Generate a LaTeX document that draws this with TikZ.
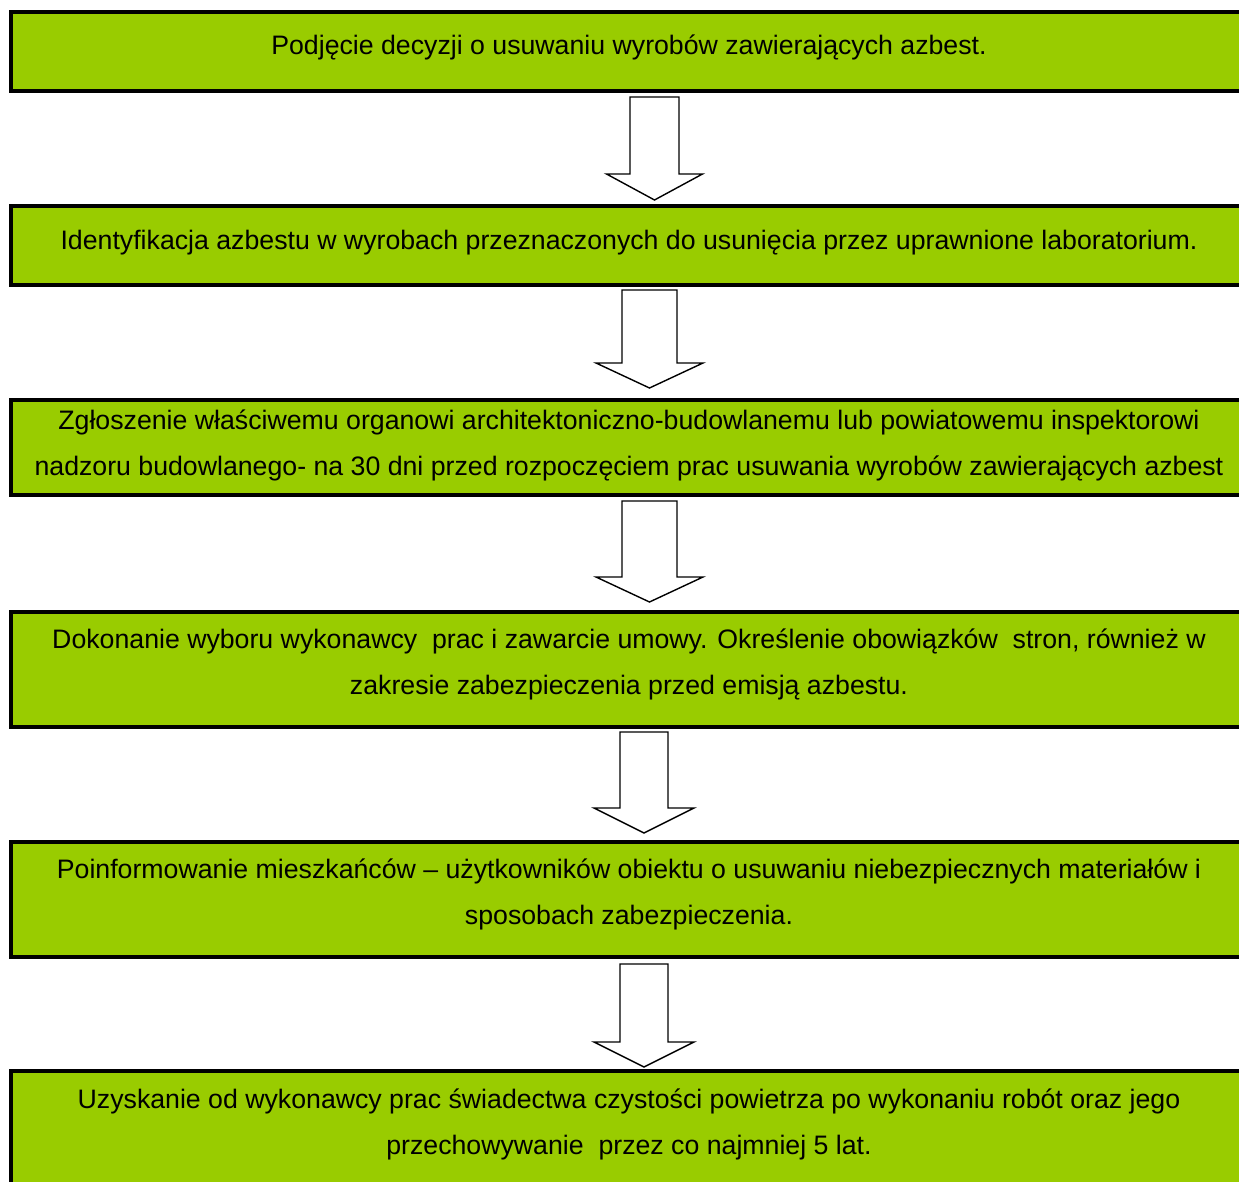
\documentclass[tikz,border=0pt]{standalone}
\usepackage{fontspec}
\setmainfont{Liberation Sans}
\definecolor{boxgreen}{HTML}{99CC00}
\newcommand\flowarrow[7]{%
  % #1 name, #2 cx, #3 top, #4 head base, #5 tip, #6 shaft half width, #7 head half width
  \coordinate (#1) at (#2,#3);
  \draw[blockarrow] (#1) ++(-#6,0) -- ++(2*#6,0) -- (#2+#6,#4) -- (#2+#7,#4) -- (#2,#5)
     -- (#2-#7,#4) -- (#2-#6,#4) -- cycle;}
\begin{document}
\begin{tikzpicture}[x=1pt,y=-1pt,
  stepbox/.style={draw=black, line width=4pt, fill=boxgreen, rectangle, inner sep=0pt, minimum width=1236pt},
  steptext/.style={font=\fontsize{26.7}{46}\selectfont, align=center, inner sep=0pt, anchor=base},
  blockarrow/.style={draw=black, line width=1.4pt, fill=white, line join=miter}]
\useasboundingbox (0,0) rectangle (1239,1182);
\clip (0,0) rectangle (1239,1182);

\node[stepbox, minimum height=79pt]  (b1) at (629,51.5) {};
\node[stepbox, minimum height=79pt]  (b2) at (629,245.5) {};
\node[stepbox, minimum height=95pt]  (b3) at (629,447.5) {};
\node[stepbox, minimum height=115pt] (b4) at (629,669.5) {};
\node[stepbox, minimum height=115pt] (b5) at (629,899.5) {};
\node[stepbox, minimum height=123pt] (b6) at (629,1132.5) {};

% base anchor of a two-line node is the baseline of its last line
\node[steptext] (t1) at (629,55) {Podjęcie decyzji o usuwaniu wyrobów zawierających azbest.};
\node[steptext] (t2) at (629,250) {Identyfikacja azbestu w wyrobach przeznaczonych do usunięcia przez uprawnione laboratorium.};
\node[steptext] (t3) at (629,475) {Zgłoszenie właściwemu organowi architektoniczno-budowlanemu lub powiatowemu inspektorowi\\nadzoru budowlanego- na 30 dni przed rozpoczęciem prac usuwania wyrobów zawierających azbest};
\node[steptext] (t4) at (629,694) {Dokonanie wyboru wykonawcy\ \ prac i zawarcie umowy. Określenie obowiązków\ \ stron, również w\\zakresie zabezpieczenia przed emisją azbestu.};
\node[steptext] (t5) at (629,924) {Poinformowanie mieszkańców – użytkowników obiektu o usuwaniu niebezpiecznych materiałów i\\sposobach zabezpieczenia.};
\node[steptext] (t6) at (629,1154) {Uzyskanie od wykonawcy prac świadectwa czystości powietrza po wykonaniu robót oraz jego\\przechowywanie\ \ przez co najmniej 5 lat.};

\flowarrow{a1}{654.5}{97}{174}{200}{24.5}{48}
\flowarrow{a2}{649.5}{290}{363}{388}{27.5}{53.5}
\flowarrow{a3}{649.5}{501}{577}{602}{27.5}{53.5}
\flowarrow{a4}{644}{732}{808}{833}{24}{50}
\flowarrow{a5}{644}{964}{1042}{1067}{24}{50}
\end{tikzpicture}
\end{document}
